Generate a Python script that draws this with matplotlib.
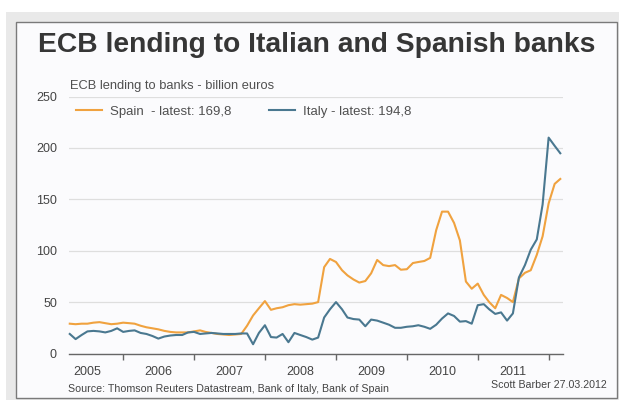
import matplotlib
matplotlib.use("Agg")
import matplotlib.pyplot as plt
import matplotlib.dates as mdates
from matplotlib.patches import Rectangle
import pandas as pd

# ---- data (billion euros, monthly, Mar 2005 - Feb 2012) ----
start_month = "2005-03-31"
n_months = 84
spain = [29, 28.5, 29, 29, 30, 30.5, 29.5, 28.5, 29, 30, 29.5, 29, 27, 25.5, 24.5, 23.5,
         22, 21, 20.5, 20.5, 20.5, 21.5, 22.5, 21, 20, 19, 18.5, 18, 18.5, 19, 27, 37,
         44, 51, 42.5, 44, 45, 47, 48, 47.5, 48, 48.5, 50, 84, 92, 89, 81, 76, 72, 69,
         70.5, 78, 91, 86, 85, 86, 81.5, 82, 88, 89, 90, 93, 120, 138, 138, 127, 110, 70,
         63, 68, 57, 50, 44, 57, 54, 50, 73, 78.5, 81, 96, 114, 146, 165, 169.8]
italy = [19, 14, 18, 21.5, 22, 21.5, 20.5, 22, 24.5, 21, 22, 22.5, 20, 19, 17, 14.5,
         16.5, 17.5, 18, 18, 20.5, 21, 19, 19.5, 20, 19.5, 19, 19, 19, 19.5, 19.5, 9,
         20, 27.5, 16, 15.5, 19, 11, 20, 18, 16, 13.5, 15.5, 35, 43, 50, 43, 35, 33.5, 33,
         26.5, 33, 32, 30, 28, 25, 25, 26, 26.5, 27.5, 26, 24, 28, 34, 39, 36.5, 31, 31.5,
         29, 47, 48, 43, 38.5, 40, 32, 39, 74, 86, 101, 111, 145, 210, 202, 194.8]
series_labels = ["Spain  - latest: 169,8", "Italy - latest: 194,8"]
year_labels = ["2005", "2006", "2007", "2008", "2009", "2010", "2011"]
y_ticks = [0, 50, 100, 150, 200, 250]

title = "ECB lending to Italian and Spanish banks"
subtitle = "ECB lending to banks - billion euros"
source = "Source: Thomson Reuters Datastream, Bank of Italy, Bank of Spain"
credit = "Scott Barber 27.03.2012"

dates = pd.date_range(start_month, periods=n_months, freq="ME")

W, H = 619, 400
fig = plt.figure(figsize=(W / 100, H / 100), dpi=100)
fig.patch.set_facecolor("white")
plt.rcParams["font.family"] = ["Liberation Sans", "DejaVu Sans"]

def fx(px):
    return px / W

def fy(py):
    return (H - py) / H

# outer gray band and inner panel
fig.add_artist(Rectangle((fx(6), 0), 1, fy(12), transform=fig.transFigure,
                         facecolor="#e9e9e9", edgecolor="none", zorder=-3))
fig.add_artist(Rectangle((fx(15.5), fy(397.5)), fx(616.5) - fx(15.5), fy(21.5) - fy(397.5),
                         transform=fig.transFigure, facecolor="#fbfbfd",
                         edgecolor="#7a7a7a", linewidth=1.0, zorder=-2))

ax = fig.add_axes([fx(68.6), fy(353.5), fx(563) - fx(68.6), fy(96.5) - fy(353.5)])
ax.set_facecolor("none")

orange = "#f0a23f"
blue = "#4a7890"
l1, = ax.plot(dates, spain, color=orange, lw=1.5, label=series_labels[0], clip_on=False)
l2, = ax.plot(dates, italy, color=blue, lw=1.5, label=series_labels[1], clip_on=False)

ax.set_xlim(pd.Timestamp("2005-03-25"), pd.Timestamp("2012-03-14"))
ax.set_ylim(0, 250)

for s in ["top", "right", "left"]:
    ax.spines[s].set_visible(False)
ax.spines["bottom"].set_color("#666666")
ax.spines["bottom"].set_linewidth(1.0)

ax.set_yticks(y_ticks)
ax.set_yticklabels([str(v) for v in y_ticks])
ax.tick_params(axis="y", length=0, pad=8.4, labelsize=9, labelcolor="#444444")
ax.yaxis.grid(True, color="#dedede", lw=0.9)
ax.set_axisbelow(True)

major = [pd.Timestamp(f"{y}-01-01") for y in range(2006, 2013)]
minor = [pd.Timestamp(f"{y}-07-01") for y in range(2005, 2012)]
ax.set_xticks(major)
ax.set_xticklabels([""] * len(major))
ax.set_xticks(minor, minor=True)
ax.set_xticklabels(year_labels, minor=True)
ax.tick_params(axis="x", which="major", direction="out", length=4.5, width=1.0, color="#666666")
ax.tick_params(axis="x", which="minor", length=0, pad=9, labelsize=9, labelcolor="#444444")
ax.xaxis.grid(False)

fig.text(fx(316.7), fy(51.7), title, ha="center", va="baseline", fontsize=20.3,
         fontweight="bold", color="#363636")
fig.text(fx(70), fy(89.3), subtitle, ha="left", va="baseline", fontsize=9.3, color="#505050")

leg = ax.legend(handles=[l1, l2], ncol=2, loc="center left",
                bbox_to_anchor=(fx(76), fy(111.7)), bbox_transform=fig.transFigure,
                frameon=False, fontsize=9.5, borderpad=0, borderaxespad=0,
                handlelength=1.95, handletextpad=0.63, columnspacing=2.86)
for t in leg.get_texts():
    t.set_color("#505050")

fig.text(fx(68), fy(392.5), source, ha="left", va="baseline", fontsize=7.7, color="#444444")
fig.text(fx(607), fy(388), credit, ha="right", va="baseline", fontsize=7.7, color="#444444")

fig.savefig("out.png", dpi=100)
